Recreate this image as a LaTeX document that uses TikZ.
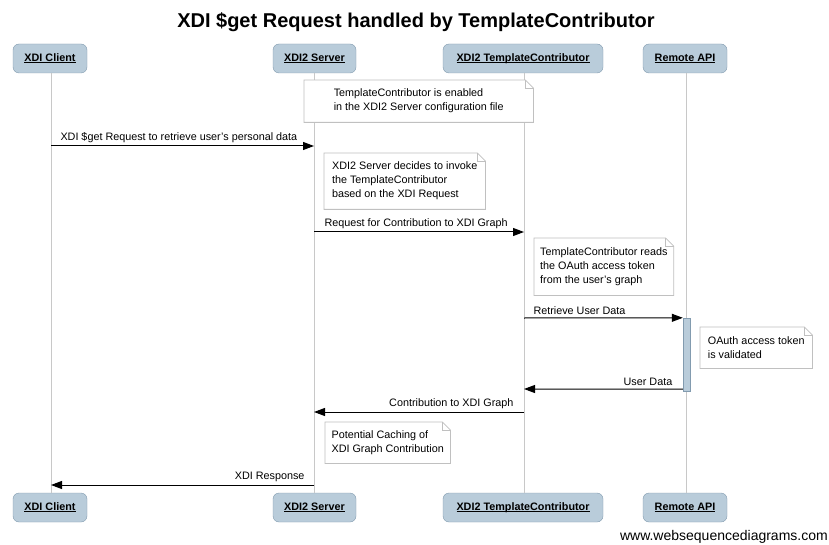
\documentclass[tikz,border=0pt]{standalone}
\usepackage{fontspec}
\setmainfont{Liberation Sans}
\usetikzlibrary{arrows.meta}
\definecolor{boxfill}{RGB}{185,204,218}
\definecolor{boxline}{RGB}{130,155,175}
\definecolor{lifegray}{RGB}{200,200,200}
\definecolor{notegray}{RGB}{192,192,192}
\newcommand\actlabel[1]{\underline{\vphantom{X}\smash{#1}}}
\tikzset{
  actor/.style={draw=boxline, fill=boxfill, rounded corners=6pt, minimum height=29pt,
    inner sep=0pt, font=\fontsize{10.8}{13}\selectfont\bfseries},
  life/.style={draw=lifegray, line width=0.9pt},
  notebox/.style={fill=white, draw=none, anchor=north west, align=left, inner xsep=6pt,
    font=\fontsize{10.8}{14}\selectfont},
  notebd/.style={draw=notegray, line width=0.8pt},
  msg/.style={draw=black, line width=1pt, -{Triangle[length=11pt,width=8pt]}},
  lblr/.style={anchor=south west, font=\fontsize{10.8}{13}\selectfont, inner sep=0pt},
  lbll/.style={anchor=south east, font=\fontsize{10.8}{13}\selectfont, inner sep=0pt},
  actbar/.style={draw=boxline, fill=boxfill, minimum width=7pt, minimum height=73pt, inner sep=0pt}
}
\newcommand\notefold[1]{%
  \draw[notebd] (#1.north west) -- ([xshift=-8pt]#1.north east) -- ([yshift=-8pt]#1.north east) -- (#1.south east) -- (#1.south west) -- cycle;
  \draw[notebd] ([xshift=-8pt]#1.north east) |- ([yshift=-8pt]#1.north east);}
\begin{document}
\begin{tikzpicture}[x=1pt,y=-1pt]
\useasboundingbox (0,0) rectangle (829,545);
\fill[white] (0,0) rectangle (829,545);
\node[font=\fontsize{20}{24}\selectfont\bfseries] (title) at (416,22) {XDI \$get Request handled by TemplateContributor};
% actors
\node[actor, minimum width=74pt] (c1) at (50,58.5) {\actlabel{XDI Client}};
\node[actor, minimum width=83pt] (s1) at (314.5,58.5) {\actlabel{XDI2 Server}};
\node[actor, minimum width=160pt] (t1) at (523,58.5) {\actlabel{XDI2 TemplateContributor}};
\node[actor, minimum width=84pt] (r1) at (685,58.5) {\actlabel{Remote API}};
\node[actor, minimum width=74pt] (c2) at (50,507.5) {\actlabel{XDI Client}};
\node[actor, minimum width=83pt] (s2) at (314.5,507.5) {\actlabel{XDI2 Server}};
\node[actor, minimum width=160pt] (t2) at (523,507.5) {\actlabel{XDI2 TemplateContributor}};
\node[actor, minimum width=84pt] (r2) at (685,507.5) {\actlabel{Remote API}};
% lifelines
\coordinate (cl1) at (51,73); \coordinate (cl2) at (51,493);
\coordinate (sl1) at (314,73); \coordinate (sl2) at (314,493);
\coordinate (tl1) at (524,73); \coordinate (tl2) at (524,493);
\coordinate (rl1) at (686,73); \coordinate (rl2) at (686,493);
\draw[life] (cl1) -- (cl2);
\draw[life] (sl1) -- (sl2);
\draw[life] (tl1) -- (tl2);
\draw[life] (rl1) -- (rl2);
% activation
\node[actbar] (act) at (686.5,354.5) {};
% note 1
\node[notebox, minimum width=229pt, minimum height=42pt] (n1) at (304,80) {TemplateContributor is enabled\\in the XDI2 Server configuration file};
\notefold{n1}
% message 1
\coordinate (m1a) at (51,146); \coordinate (m1b) at (314,146);
\draw[msg] (m1a) -- (m1b) node[lblr, pos=0, xshift=9pt, yshift=3pt] (l1) {XDI \$get Request to retrieve user's personal data};
% note 2
\node[notebox, minimum width=161pt, minimum height=56pt] (n2) at (324,153) {XDI2 Server decides to invoke\\the TemplateContributor\\based on the XDI Request};
\notefold{n2}
% message 2
\coordinate (m2a) at (314,232); \coordinate (m2b) at (524,232);
\draw[msg] (m2a) -- (m2b) node[lblr, pos=0, xshift=10pt, yshift=3pt] (l2) {Request for Contribution to XDI Graph};
% note 3
\node[notebox, minimum width=133pt, minimum height=57pt] (n3) at (534,238) {TemplateContributor reads\\the OAuth access token\\from the user's graph};
\notefold{n3}
% message 3
\coordinate (m3a) at (524,318); \coordinate (m3b) at (act.north west);
\draw[msg] (m3a) -- (m3b) node[lblr, pos=0, xshift=9pt, yshift=3pt] (l3) {Retrieve User Data};
% note 4
\node[notebox, minimum width=112pt, minimum height=41pt] (n4) at (700,327) {OAuth access token\\is validated};
\notefold{n4}
% message 4
\coordinate (m4a) at ([yshift=2pt]act.south west); \coordinate (m4b) at (524,389);
\draw[msg] (m4a) -- (m4b) node[lbll, pos=0, xshift=-10pt, yshift=3pt] (l4) {User Data};
% message 5
\coordinate (m5a) at (524,412); \coordinate (m5b) at (314,412);
\draw[msg] (m5a) -- (m5b) node[lbll, pos=0, xshift=-10pt, yshift=3pt] (l5) {Contribution to XDI Graph};
% note 5
\node[notebox, minimum width=125pt, minimum height=41pt] (n5) at (325,422) {Potential Caching of\\XDI Graph Contribution};
\notefold{n5}
% message 6
\coordinate (m6a) at (314,485); \coordinate (m6b) at (51,485);
\draw[msg] (m6a) -- (m6b) node[lbll, pos=0, xshift=-9pt, yshift=3pt] (l6) {XDI Response};
% watermark
\node[anchor=east, font=\fontsize{14}{16}\selectfont, inner sep=0pt] (wm) at (828,537) {www.websequencediagrams.com};
\end{tikzpicture}
\end{document}
